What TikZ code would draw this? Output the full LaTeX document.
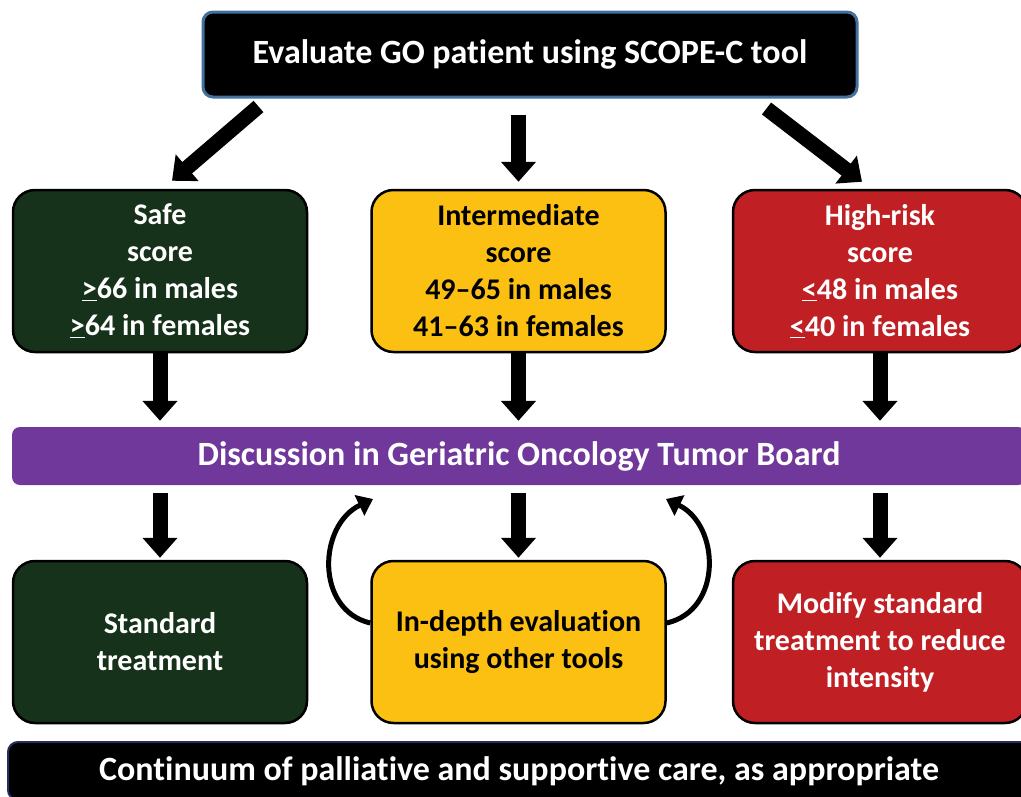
\documentclass[tikz,border=0pt]{standalone}
\usepackage{fontspec}
\setmainfont{Carlito}[Ligatures={TeX,NoCommon}]
\usetikzlibrary{arrows.meta}

\definecolor{safegreen}{HTML}{17321A}
\definecolor{midyellow}{HTML}{FBC012}
\definecolor{riskred}{HTML}{C02024}
\definecolor{boardpurple}{HTML}{70389A}
\definecolor{edgeblue}{HTML}{41719C}
\definecolor{edgenavy}{HTML}{252E5E}

\begin{document}
\begin{tikzpicture}[x=1pt,y=-1pt,
	every node/.style={font=\bfseries\fontsize{30}{37}\selectfont,align=center,inner sep=0pt},
	scorebox/.style={draw=black,line width=2.5pt,rounded corners=22pt,minimum width=294pt,minimum height=162pt},
	bar/.style={minimum height=58pt,text=white,font=\bfseries\fontsize{34}{40}\selectfont},
	blockarrow/.style={line width=15pt,-{Triangle[width=34pt,length=20pt]}},
	loopback/.style={line width=5pt,-{Triangle[width=22pt,length=15pt]}},]

\useasboundingbox (0,0) rectangle (1021,796);

\node[bar,draw=edgeblue,line width=3pt,rounded corners=10pt,fill=black,
      minimum width=654pt,minimum height=85pt] (top) at (530,54.5) {Evaluate GO patient using SCOPE-C tool};

\node[scorebox,fill=safegreen,text=white] (safe) at (160,271) {Safe\\score\\\underline{>}66 in males\\\underline{>}64 in females};
\node[scorebox,fill=midyellow] (inter) at (518.5,271) {Intermediate\\score\\49--65 in males\\41--63 in females};
\node[scorebox,fill=riskred,text=white] (high) at (880,271) {High-risk\\score\\\underline{<}48 in males\\\underline{<}40 in females};

\node[bar,fill=boardpurple,rounded corners=8pt,minimum width=1014pt] (board) at (519,456) {Discussion in Geriatric Oncology Tumor Board};

\node[scorebox,fill=safegreen,text=white] (standard) at (160,642) {Standard\\treatment};
\node[scorebox,fill=midyellow] (indepth) at (518.5,642) {In-depth evaluation\\using other tools};
\node[scorebox,fill=riskred,text=white] (modify) at (880,642) {Modify standard\\treatment to reduce\\intensity};

\node[bar,fill=black,draw=edgenavy,line width=2pt,rounded corners=10pt,minimum width=1022pt] (care) at (519,771) {Continuum of palliative and supportive care, as appropriate};

% arrows out of the top box
\draw[blockarrow] ([xshift=57pt,yshift=-8pt]top.south west) -- ([xshift=12pt,yshift=8pt]safe.north);
\draw[blockarrow] ([yshift=-16pt]top.south -| inter.north) -- ([yshift=7pt]inter.north);
\draw[blockarrow] ([xshift=-92pt,yshift=-10pt]top.south east) -- ([xshift=-18pt,yshift=7pt]high.north);

% into and out of the board
\foreach \a/\b in {safe/standard,inter/indepth,high/modify}{
	\draw[blockarrow,shorten >=6pt] (\a.south) -- (\a.south |- board.north);
	\draw[blockarrow,shorten <=8pt,shorten >=2pt] (\b.north |- board.south) -- (\b.north);
}

% loops back to the board
\coordinate (backleft) at (373,499);
\coordinate (backright) at (666,499);
\draw[loopback] ([yshift=19pt]indepth.west) .. controls (315,610) and (318,525) .. (backleft);
\draw[loopback] ([yshift=19pt]indepth.east) .. controls (723,610) and (720,525) .. (backright);
\end{tikzpicture}
\end{document}
